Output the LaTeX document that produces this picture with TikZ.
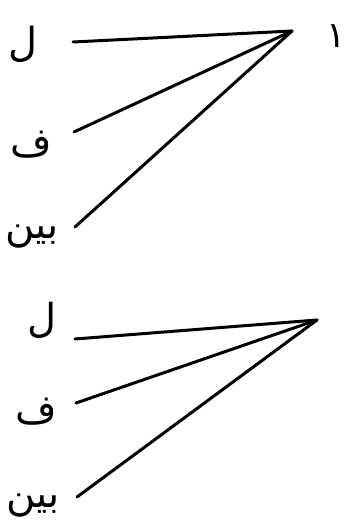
\documentclass[tikz,border=0pt]{standalone}
\usepackage{fontspec}
\newfontfamily\arabicfont[Script=Arabic]{DejaVu Sans}
\TeXXeTstate=1
\begin{document}
\begin{tikzpicture}[x=1pt,y=1pt,
  lab/.style={font=\arabicfont\fontsize{40}{42}\selectfont, inner sep=0pt},
  conn/.style={line width=3pt, line cap=round}]
\useasboundingbox (0,0) rectangle (347,520);
% top group
\coordinate (a1) at (292,489);
\node[lab] (t1) at (23,476) {\beginR ل\endR};
\node[lab] (t2) at (31,375) {\beginR ف\endR};
\node[lab] (t3) at (32,283) {\beginR بين\endR};
\node[lab, font=\arabicfont\fontsize{36}{38}\selectfont] (one) at (336,484) {\beginR ١\endR};
\coordinate (s1) at (73,478);
\coordinate (s2) at (74,388);
\coordinate (s3) at (75,293);
\draw[conn] (s1) -- (a1);
\draw[conn] (s2) -- (a1);
\draw[conn] (s3) -- (a1);
% bottom group
\coordinate (a2) at (317,200);
\node[lab] (b1) at (42,200) {\beginR ل\endR};
\node[lab] (b2) at (36,108) {\beginR ف\endR};
\node[lab] (b3) at (33,14) {\beginR بين\endR};
\coordinate (e1) at (75,181);
\coordinate (e2) at (76,117);
\coordinate (e3) at (77,23);
\draw[conn] (e1) -- (a2);
\draw[conn] (e2) -- (a2);
\draw[conn] (e3) -- (a2);
\end{tikzpicture}
\end{document}
